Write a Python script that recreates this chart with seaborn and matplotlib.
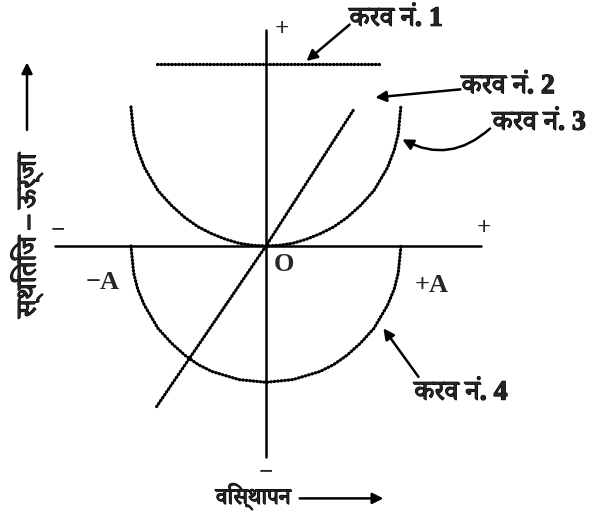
import numpy as np
import pandas as pd
import matplotlib
matplotlib.use("Agg")
import matplotlib.pyplot as plt
import matplotlib.font_manager as fm
import matplotlib.patheffects as pe
from matplotlib.ft2font import FT2Font
import seaborn as sns

# === data (x in units of A, y on the same scale) ===
curve1_x = [-0.81, 0.84]
curve1_y = [1.35, 1.35]

curve2_x = [-0.81, 0.0, 0.65]
curve2_y = [-1.19, 0.0, 1.01]

curve3_x = [-1.0, -0.98, -0.95, -0.9, -0.8, -0.7, -0.6, -0.5, -0.4, -0.3, -0.2, -0.1, 0.0,
            0.1, 0.2, 0.3, 0.4, 0.5, 0.6, 0.7, 0.8, 0.9, 0.95, 0.98, 1.0]
curve3_y = [1.03, 0.83, 0.71, 0.58, 0.41, 0.30, 0.21, 0.14, 0.09, 0.05, 0.02, 0.005, 0.0,
            0.005, 0.02, 0.05, 0.09, 0.14, 0.21, 0.30, 0.41, 0.58, 0.71, 0.83, 1.04]

curve4_x = [-1.0, -0.98, -0.95, -0.9, -0.8, -0.7, -0.6, -0.5, -0.4, -0.3, -0.2, -0.1, 0.0,
            0.1, 0.2, 0.3, 0.4, 0.5, 0.6, 0.7, 0.8, 0.9, 0.95, 0.98, 1.0]
curve4_y = [0.0, -0.20, -0.32, -0.44, -0.61, -0.72, -0.81, -0.88, -0.93, -0.96, -0.99, -1.0, -1.01,
            -1.0, -0.99, -0.96, -0.93, -0.88, -0.81, -0.72, -0.61, -0.44, -0.32, -0.20, 0.0]

curve_labels = ["करव नं. 1", "करव नं. 2", "करव नं. 3", "करव नं. 4"]
x_label = "विस्थापन"
y_label = "स्थितिज – ऊर्जा"

# find a (preferably proportional) font that has Devanagari glyphs
cands = []
for f in fm.fontManager.ttflist:
    try:
        if ord("क") in FT2Font(f.fname).get_charmap():
            cands.append(f.name)
    except Exception:
        pass
cands = sorted(set(cands), key=lambda n: ("Mono" in n, "Devanagari" not in n, "Serif" not in n, n))
deva = cands[0] if cands else "DejaVu Sans"

sns.set_style("white")
plt.rcParams["font.family"] = ["Liberation Serif", deva, "DejaVu Sans"]

fig = plt.figure(figsize=(5.99, 5.15), dpi=100)
ax = fig.add_axes([0, 0, 1, 1])
ax.set_xlim(-1.970, 2.467)
ax.set_ylim(-1.993, 1.822)

# axes lines
ax.plot([-1.56, 1.59], [0, 0], color="black", lw=1.8)
ax.plot([0, 0], [-1.56, 1.6], color="black", lw=1.8)

dots = (0, (0.2, 0.9))
frames = [
    pd.DataFrame({"x": curve1_x, "y": curve1_y, "c": "1"}),
    pd.DataFrame({"x": curve2_x, "y": curve2_y, "c": "2"}),
    pd.DataFrame({"x": curve3_x, "y": curve3_y, "c": "3"}),
    pd.DataFrame({"x": curve4_x, "y": curve4_y, "c": "4"}),
]
for df in frames:
    sns.lineplot(data=df, x="x", y="y", sort=False, estimator=None, ax=ax,
                 color="black", lw=2.3, linestyle=dots, dash_capstyle="round")
ax.axis("off")

bold = [pe.withStroke(linewidth=0.9, foreground="black")]
arrow = dict(arrowstyle="-|>", color="black", lw=1.8, mutation_scale=16, shrinkA=0, shrinkB=0)
lab = dict(fontsize=20, ha="left", va="center", fontweight="bold", path_effects=bold)
ax.annotate("", xy=(0.30, 1.37), xytext=(0.62, 1.64), arrowprops=arrow)
ax.text(0.62, 1.68, curve_labels[0], **lab)
ax.annotate("", xy=(0.81, 1.10), xytext=(1.44, 1.16), arrowprops=arrow)
ax.text(1.45, 1.18, curve_labels[1], **lab)
ax.annotate("", xy=(1.01, 0.79), xytext=(1.66, 0.87),
            arrowprops=dict(arrow, connectionstyle="arc3,rad=-0.35"))
ax.text(1.68, 0.91, curve_labels[2], **lab)
ax.annotate("", xy=(0.87, -0.61), xytext=(1.13, -0.97), arrowprops=arrow)
ax.text(1.10, -1.09, curve_labels[3], **lab)

lat = dict(fontsize=19, fontweight="bold", ha="center", va="center", family="Liberation Serif")
ax.text(-1.21, -0.27, "−A", **lat)
ax.text(1.23, -0.29, "+A", **lat)
ax.text(0.13, -0.14, "O", **lat)
sign = dict(fontsize=18, fontweight="bold", ha="center", va="center", family="Liberation Serif")
ax.text(0.12, 1.60, "+", **sign)
ax.text(-1.54, 0.12, "−", **sign)
ax.text(1.61, 0.13, "+", **sign)
ax.text(0.0, -1.67, "−", **sign)

ax.text(-1.77, -0.53, y_label, fontsize=20, rotation=90, ha="center", va="bottom",
        fontweight="bold", path_effects=bold)
ax.annotate("", xy=(-1.77, 1.36), xytext=(-1.77, 0.86), arrowprops=arrow)
ax.text(-0.37, -1.86, x_label, fontsize=16.5, ha="left", va="center",
        fontweight="bold", path_effects=bold)
ax.annotate("", xy=(0.87, -1.87), xytext=(0.25, -1.87), arrowprops=arrow)

fig.savefig("out.png", dpi=100)
